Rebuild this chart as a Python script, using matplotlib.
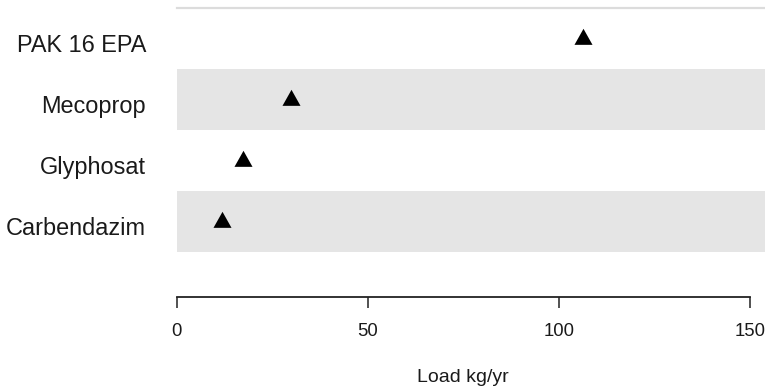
import matplotlib
matplotlib.use("Agg")
import matplotlib.pyplot as plt
import matplotlib.transforms as mtransforms
import numpy as np

# Substances (bottom to top) and their annual loads
substances = ["Carbendazim", "Glyphosat", "Mecoprop", "PAK 16 EPA"]
loads = [11.8, 17.4, 29.9, 106.2]
x_ticks = [0, 50, 100, 150]
x_label = "Load kg/yr"

plt.rcParams["font.family"] = ["Liberation Sans", "DejaVu Sans"]

W, H, DPI = 765, 388, 100
fig = plt.figure(figsize=(W / DPI, H / DPI), dpi=DPI)

# axes placement in pixels
left_px, right_px = 176.7, 765
top_px, bottom_px = 8.0, 296.7
ax = fig.add_axes([left_px / W, 1 - bottom_px / H,
                   (right_px - left_px) / W, (bottom_px - top_px) / H])

px_per_unit = (750 - 176.7) / 150
ax.set_xlim(0, (right_px - left_px) / px_per_unit)
ax.set_ylim(-1.227, 3.5)

ypos = np.arange(len(substances))

# alternating row bands
for i, y in enumerate(ypos):
    if i % 2 == 0:
        ax.axhspan(y - 0.5, y + 0.5, color="#e5e5e5", lw=0, zorder=0)
ax.axhline(3.5, color="#dcdcdc", lw=1.6, zorder=1, clip_on=False)

# triangle marker with its centroid on the data point
tri = [(-9, -5.33), (9, -5.33), (0, 10.67)]
ax.plot(loads, ypos, linestyle="none", marker=tri, markersize=15.4,
        color="black", markeredgewidth=0, zorder=3)

for side in ["top", "right", "left"]:
    ax.spines[side].set_visible(False)
ax.spines["bottom"].set_bounds(0, 150)
ax.spines["bottom"].set_color("#222222")
ax.spines["bottom"].set_linewidth(1.3)

ax.set_xticks(x_ticks)
ax.set_xticklabels([str(t) for t in x_ticks])
ax.tick_params(axis="x", direction="out", length=8, width=1.1,
               color="#222222", pad=11, labelsize=13.3, labelcolor="#1a1a1a")

ax.set_yticks(ypos)
ax.set_yticklabels(substances)
ax.tick_params(axis="y", length=0, pad=22, labelsize=16.9,
               labelcolor="#1a1a1a")
shift = mtransforms.ScaledTranslation(0, -4 / DPI, fig.dpi_scale_trans)
for lab in ax.get_yticklabels():
    lab.set_transform(lab.get_transform() + shift)

fig.text((176.7 + 150 * px_per_unit / 2) / W, 1 - 377.5 / H, x_label,
         ha="center", va="center", fontsize=14, color="#1a1a1a")

fig.savefig("out.png", dpi=DPI)
